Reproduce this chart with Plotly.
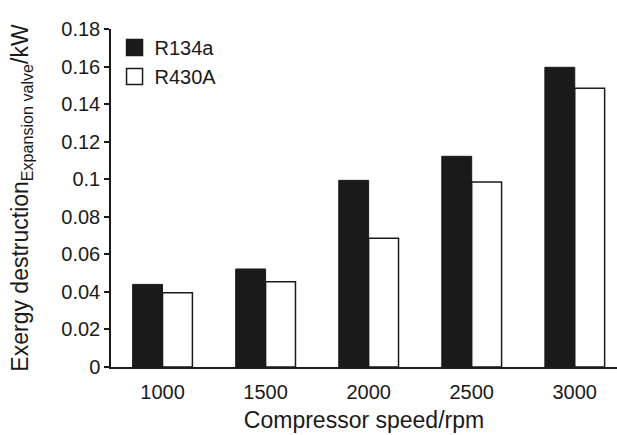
import plotly.graph_objects as go

# Exergy destruction in the expansion valve vs. compressor speed
speeds = ["1000", "1500", "2000", "2500", "3000"]
r134a = [0.044, 0.0522, 0.0994, 0.1122, 0.1596]
r430a = [0.0395, 0.0454, 0.0685, 0.0985, 0.1484]
y_ticks = [0, 0.02, 0.04, 0.06, 0.08, 0.1, 0.12, 0.14, 0.16, 0.18]
y_tick_text = ["0", "0.02", "0.04", "0.06", "0.08", "0.1", "0.12", "0.14", "0.16", "0.18"]

FONT = "Liberation Sans, Arial, Helvetica, sans-serif"
INK = "#1a1a1a"

fig = go.Figure()
fig.add_trace(go.Bar(
    x=speeds, y=r134a, name="R134a", showlegend=False,
    marker=dict(color=INK, line=dict(color=INK, width=1)),
))
fig.add_trace(go.Bar(
    x=speeds, y=r430a, name="R430A", showlegend=False,
    marker=dict(color="white", line=dict(color=INK, width=1.5)),
))

# Legend entries with larger square swatches
for name, fill in [("R134a", INK), ("R430A", "white")]:
    fig.add_trace(go.Scatter(
        x=[None], y=[None], mode="markers", name=name,
        marker=dict(symbol="square", size=17, color=fill,
                    line=dict(color=INK, width=1.5)),
    ))

fig.update_layout(
    width=617, height=435,
    margin=dict(l=111, r=0, t=29, b=68),
    paper_bgcolor="white", plot_bgcolor="white",
    barmode="group", bargap=0.42, bargroupgap=0,
    font=dict(family=FONT, color=INK, size=20),
    showlegend=True,
    legend=dict(
        x=0.007, y=1.003, xanchor="left", yanchor="top",
        font=dict(family=FONT, size=20, color=INK),
        bgcolor="rgba(0,0,0,0)", tracegroupgap=0,
        itemwidth=30,
    ),
)

fig.update_xaxes(
    type="category", range=[-0.5, 4.41],
    showline=True, linecolor=INK, linewidth=1.5,
    ticks="", showgrid=False, zeroline=False,
    tickfont=dict(size=20), ticklabelstandoff=6,
    title=dict(text="Compressor speed/rpm", font=dict(size=23), standoff=10),
)
fig.update_yaxes(
    range=[0, 0.18], tickvals=y_ticks, ticktext=y_tick_text,
    showline=True, linecolor=INK, linewidth=1.5,
    ticks="outside", ticklen=5, tickwidth=1.5, tickcolor=INK,
    showgrid=False, zeroline=False,
    tickfont=dict(size=20),
    title=dict(
        text="Exergy destruction<sub>Expansion valve</sub>/kW",
        font=dict(size=23), standoff=26,
    ),
)

fig.write_html("out.html")
